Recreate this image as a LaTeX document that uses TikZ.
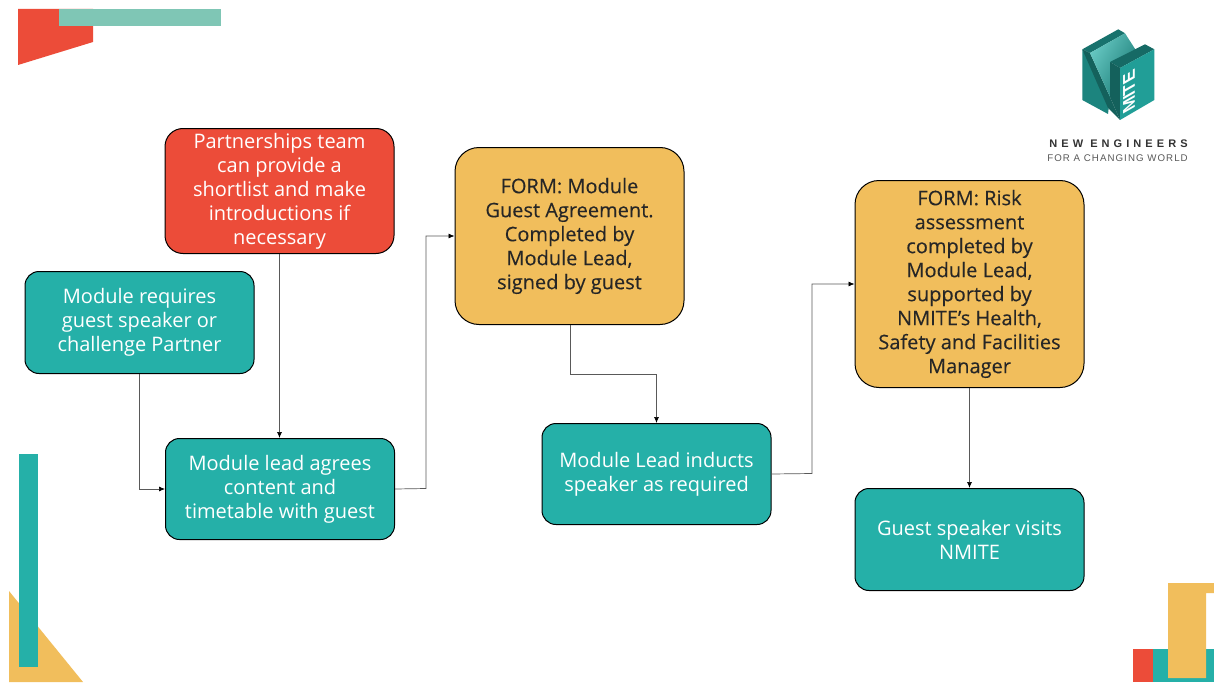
\documentclass[tikz,border=0pt]{standalone}
\usepackage{fontspec}
\setmainfont{Open Sans}
\newfontfamily\logofont{Liberation Sans}
\usetikzlibrary{arrows.meta}
\definecolor{teal1}{HTML}{25B0A8}
\definecolor{red1}{HTML}{EC4C39}
\definecolor{yel1}{HTML}{F1BE5C}
\definecolor{mint}{HTML}{7FC6B5}
\tikzset{
  box/.style={draw=black,line width=1pt,rounded corners=#1,minimum height=20pt,inner sep=0pt,align=center,anchor=north west,font=\fontsize{20}{24}\selectfont,execute at begin node={\rule{0pt}{17pt}}},
  tealbox/.style={box=14pt,fill=teal1,text=white},
  redbox/.style={box=18pt,fill=red1,text=white},
  yelbox/.style={box=24pt,fill=yel1,text=black!85,font=\fontsize{20}{24}\selectfont\addfontfeature{FakeBold=0.2}},
  conn/.style={draw=black!65,line width=0.7pt,-{Latex[length=6pt,width=5pt,color=black]}}
}
\begin{document}
\begin{tikzpicture}[x=1pt,y=-1pt]
\useasboundingbox (0,0) rectangle (1214,682);
\fill[white] (0,0) rectangle (1214,682);
% decoration
\fill[red1] (18,9) -- (93,9) -- (93,42) -- (18,65) -- cycle;
\fill[mint] (59,9) rectangle (221,26);
\fill[yel1] (9,591) -- (83,682) -- (9,682) -- cycle;
\fill[teal1] (19,454) rectangle (38,667);
\fill[red1] (1133,649) rectangle (1153,682);
\fill[teal1] (1153,649) rectangle (1214,682);
\fill[yel1] (1168,583) -- (1214,583) -- (1214,593) -- (1206,593) -- (1206,678) -- (1168,678) -- cycle;
% logo
\fill[teal1!65!black] (1082.3,49.3) -- (1118.3,29.3) -- (1125,33.3) -- (1090,53) -- cycle;
\fill[teal1!75!black] (1082.3,49.3) -- (1082.3,100) -- (1108,114) -- (1110,97) -- cycle;
\fill[black!45!teal1] (1082.3,49.3) -- (1090,53) -- (1110,97) -- (1120,120) -- (1108,108) -- cycle;
\shade[left color=teal1!70!white,right color=teal1!70!black,shading angle=60] (1090,53) -- (1125,33.3) -- (1137,52) -- (1110,64) -- (1110,97) -- cycle;
\fill[teal1!60!black] (1110,62) -- (1145,44.3) -- (1154.3,49.3) -- (1120,68) -- cycle;
\fill[black!45!teal1] (1110,62) -- (1120,68) -- (1120,120) -- (1110,97) -- cycle;
\fill[teal1!90!black] (1120,68) -- (1154.3,49.3) -- (1154.3,100) -- (1120,120) -- cycle;
\begin{scope}[shift={(1129,92)},cm={0,1,-1,-0.57,(0,0)}]
\node[transform shape,text=white,font=\logofont\bfseries\fontsize{17}{17}\selectfont,inner sep=0pt] (logomark) at (0,0) {MITE};
\end{scope}
\node[font=\logofont\bfseries\fontsize{11}{11}\selectfont\addfontfeature{LetterSpace=37},text=black!80,inner sep=0pt] (logoa) at (1118.5,144) {NEW ENGINEERS};
\node[font=\logofont\fontsize{9.7}{11}\selectfont\addfontfeature{LetterSpace=11},text=black!65,inner sep=0pt] (logob) at (1117.5,158) {FOR A CHANGING WORLD};
% nodes
\node[redbox,minimum width=229pt,minimum height=125pt] (partners) at (164.5,128) {Partnerships team\\can provide a\\shortlist and make\\introductions if\\necessary};
\node[tealbox,minimum width=229pt,minimum height=102pt] (requires) at (24.5,271) {Module requires\\guest speaker or\\challenge Partner};
\node[tealbox,minimum width=229pt,minimum height=101pt] (agrees) at (165,438) {Module lead agrees\\content and\\timetable with guest};
\node[yelbox,minimum width=229pt,minimum height=177pt] (agreement) at (454.5,147) {FORM: Module\\Guest Agreement.\\Completed by\\Module Lead,\\signed by guest};
\node[tealbox,minimum width=229pt,minimum height=101pt] (inducts) at (541.5,423) {Module Lead inducts\\speaker as required};
\node[yelbox,minimum width=229pt,minimum height=207pt] (risk) at (854.5,180) {FORM: Risk\\assessment\\completed by\\Module Lead,\\supported by\\NMITE's Health,\\Safety and Facilities\\Manager};
\node[tealbox,minimum width=229pt,minimum height=102pt] (visit) at (854.5,488) {Guest speaker visits\\NMITE};
% connectors
\draw[conn] (partners.south -| 279.5,0) -- (agrees.north -| 279.5,0);
\draw[conn] (requires.south -| 139.5,0) |- (agrees.west);
\draw[conn] (agrees.east) -- (426,488.5) |- (agreement.west);
\draw[conn] (agreement.south -| 570.5,0) -- (570.5,374) -| (inducts.north -| 656.5,0);
\draw[conn] (inducts.east) -- (812,473.5) |- (risk.west);
\draw[conn] (risk.south -| 969.5,0) -- (visit.north -| 969.5,0);
\end{tikzpicture}
\end{document}
